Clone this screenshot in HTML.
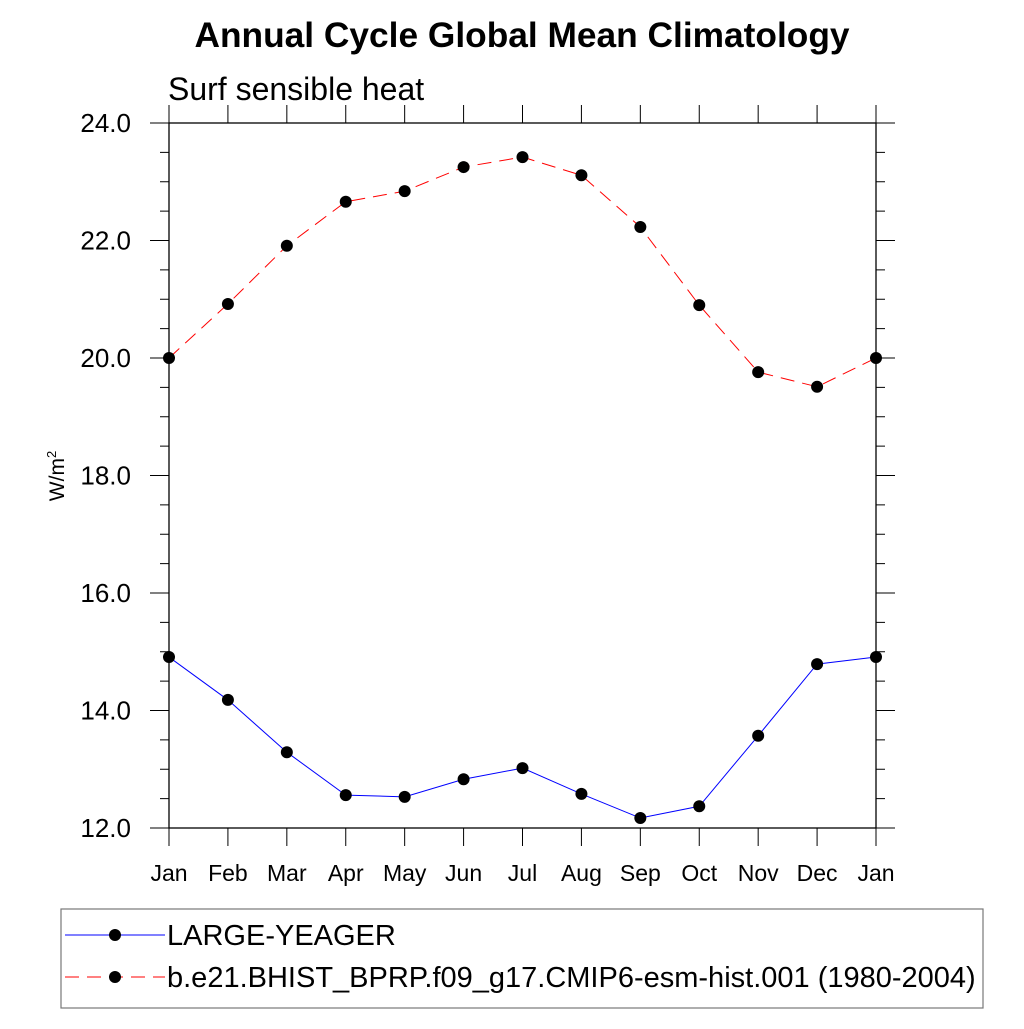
<!DOCTYPE html>
<html><head><meta charset="utf-8"><style>
body{margin:0;background:#fff}
svg text{font-family:"Liberation Sans",sans-serif}
</style></head><body>
<svg id="chart" width="1024" height="1024" viewBox="0 0 1024 1024" xmlns="http://www.w3.org/2000/svg">
<rect width="1024" height="1024" fill="#fff"/>
<text x="522" y="47" font-size="35.3" font-weight="bold" text-anchor="middle">Annual Cycle Global Mean Climatology</text>
<text x="168" y="100" font-size="32">Surf sensible heat</text>
<text transform="translate(64,476) rotate(-90)" font-size="21" text-anchor="middle">W/m<tspan dy="-8" font-size="13">2</tspan></text>
<g id="axes"></g>
<g id="series"></g>
<g>
<rect x="61" y="909" width="922" height="99" fill="none" stroke="#777" stroke-width="1.2"/>
<line x1="65" y1="935" x2="165" y2="935" stroke="#00f" stroke-width="1"/>
<circle cx="115" cy="935" r="6" fill="#000"/>
<text x="167" y="945" font-size="29">LARGE-YEAGER</text>
<line x1="65" y1="977" x2="165" y2="977" stroke="#f00" stroke-width="1" stroke-dasharray="14,8"/>
<circle cx="115" cy="977" r="6" fill="#000"/>
<text x="167" y="987" font-size="29">b.e21.BHIST_BPRP.f09_g17.CMIP6-esm-hist.001 (1980-2004)</text>
</g>
</svg>
<script>
const months=["Jan","Feb","Mar","Apr","May","Jun","Jul","Aug","Sep","Oct","Nov","Dec","Jan"];
const largeYeager=[14.91,14.18,13.29,12.56,12.53,12.83,13.02,12.58,12.17,12.37,13.57,14.79,14.91];
const bhist=[20.0,20.92,21.91,22.66,22.84,23.25,23.42,23.11,22.23,20.9,19.76,19.51,20.0];
const yTicks=[12,14,16,18,20,22,24];
const NS="http://www.w3.org/2000/svg";
const L=169,R=876,T=123,B=828,ymin=12,ymax=24;
const xs=i=>L+(R-L)*i/12;
const ys=v=>B-(v-ymin)/(ymax-ymin)*(B-T);
function mk(tag,attrs,parent){const e=document.createElementNS(NS,tag);for(const k in attrs)e.setAttribute(k,attrs[k]);parent.appendChild(e);return e;}
const ax=document.getElementById('axes');
const frame=mk('rect',{x:L,y:T,width:R-L,height:B-T,fill:'none',stroke:'#000','stroke-width':1.3},ax);


for(let v=ymin;v<=ymax+0.001;v+=0.5){
  const y=ys(v);const major=Math.abs(v-Math.round(v/2)*2)<0.01;const len=major?19:9;
  mk('line',{x1:L-len,y1:y,x2:L,y2:y,stroke:'#000','stroke-width':1},ax);
  mk('line',{x1:R,y1:y,x2:R+len,y2:y,stroke:'#000','stroke-width':1},ax);
}
yTicks.forEach(v=>{
  const t=mk('text',{x:L-38,y:ys(v)+9,'font-size':26,'text-anchor':'end'},ax);
  t.textContent=v.toFixed(1);
  
  
});
months.forEach((m,i)=>{
  const x=xs(i);
  mk('line',{x1:x,y1:T-18,x2:x,y2:T,stroke:'#000','stroke-width':1},ax);
  mk('line',{x1:x,y1:B,x2:x,y2:B+18,stroke:'#000','stroke-width':1},ax);
  const t=mk('text',{x:x,y:881,'font-size':23,'text-anchor':'middle'},ax);
  t.textContent=m;
  
  
});
const sg=document.getElementById('series');
function draw(vals,color,dash,name){
  const g=mk('g',{},sg);
  
  
  const pts=vals.map((v,i)=>xs(i)+','+ys(v)).join(' ');
  const attrs={points:pts,fill:'none',stroke:color,'stroke-width':1};
  if(dash)attrs['stroke-dasharray']=dash;
  mk('polyline',attrs,g);
  vals.forEach((v,i)=>{
    const c=mk('circle',{cx:xs(i),cy:ys(v),r:6,fill:'#000'},g);
    
    
  });
}
draw(largeYeager,'#00f',null,'series-large-yeager');
draw(bhist,'#f00','14,8','series-bhist');
</script>
</body></html>
